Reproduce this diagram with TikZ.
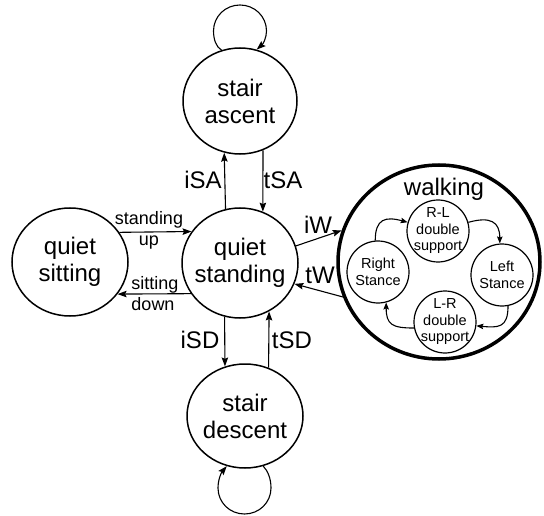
\documentclass[tikz,border=0pt]{standalone}
\usepackage{fontspec}
\setmainfont{Liberation Sans}
\usetikzlibrary{shapes.geometric,arrows.meta}
\begin{document}
\begin{tikzpicture}[x=1pt,y=-1pt,
  state/.style={draw, ellipse, line width=1.5pt, inner sep=-15pt, align=center, font=\fontsize{24}{27}\selectfont},
  sub/.style={draw, circle, line width=1.2pt, minimum size=62pt, inner sep=-6pt, align=center, font=\fontsize{14.5}{16.5}\selectfont},
  lbl/.style={font=\fontsize{24}{27}\selectfont, inner sep=0pt},
  slbl/.style={font=\fontsize{18}{20}\selectfont, inner sep=0pt},
  arr/.style={-{Stealth[length=9pt,width=6.5pt,inset=1.5pt]}, line width=1.1pt},
  sarr/.style={-{Stealth[length=7pt,width=5.5pt,inset=1.2pt]}, line width=1.1pt},
]
\fill[white] (0,0) rectangle (544,516);
\useasboundingbox (0,0) rectangle (544,516);

% main states
\node[state, minimum width=114pt, minimum height=106pt] (sa) at (240,101) {stair\\ascent};
\node[state, minimum width=116pt, minimum height=110pt] (qs) at (240,263) {quiet\\standing};
\node[state, minimum width=116pt, minimum height=108pt] (qsit) at (70,262) {quiet\\sitting};
\node[state, minimum width=116pt, minimum height=104pt] (sd) at (245,416) {stair\\descent};

% walking super-state
\node[draw, ellipse, line width=3.5pt, minimum width=202pt, minimum height=194pt, inner sep=0pt] (w) at (439,262) {};
\node[lbl] (wl) at (444,189) {walking};

\node[sub] (rl) at (438,231) {R-L\\double\\support};
\node[sub] (ls) at (502,275) {Left\\Stance};
\node[sub] (lr) at (445,322) {L-R\\double\\support};
\node[sub] (rs) at (378,272) {Right\\Stance};

% self loops (round)
\draw[arr] (sa.110) .. controls (216,47) and (213.5,39) .. (213.5,31)
  .. controls (213.5,16.4) and (225.4,5) .. (240,5)
  .. controls (254.6,5) and (266.5,16.4) .. (266.5,31)
  .. controls (266.5,38) and (263,44) .. (sa.72);
\draw[arr] (sd.-70) .. controls (268,471) and (271,479) .. (271,488)
  .. controls (271,502.6) and (259.1,514) .. (244.5,514)
  .. controls (229.9,514) and (218,502.6) .. (218,488)
  .. controls (218,480) and (221,473) .. (sd.-110);

% vertical transitions
\draw[arr] (qs.105.8) -- (sa.253.6);
\draw[arr] (sa.-65.8) -- (qs.66.6);
\draw[arr] (qs.254.2) -- (sd.112.3);
\draw[arr] (sd.64.3) -- (qs.-59.8);

% horizontal transitions
\draw[arr] (qsit.31.9) -- (qs.147.1);
\draw[arr] (qs.212.9) -- (qsit.-34.4);
\draw[arr] (qs.17) -- (w.162.8);
\draw[arr] (w.200) -- (qs.-21.3);

% inner cycle
\draw[sarr] (rs.95) .. controls +(0,-22) and +(-22,-6) .. (rl.164);
\draw[sarr] (rl.16) .. controls +(22,-6) and +(0,-22) .. (ls.94);
\draw[sarr] (ls.-79) .. controls +(0,22) and +(22,2) .. (lr.-7);
\draw[sarr] (lr.191) .. controls +(-22,0) and +(0,22) .. (rs.-75);

% labels
\node[lbl] (liSA) at (203,180) {iSA};
\node[lbl] (ltSA) at (283,180) {tSA};
\node[lbl] (liSD) at (200,340) {iSD};
\node[lbl] (ltSD) at (292,340) {tSD};
\node[lbl] (liW) at (318,225) {iW};
\node[lbl] (ltW) at (320,275) {tW};
\node[slbl] (l1) at (149,220) {standing};
\node[slbl] (l2) at (149,243) {up};
\node[slbl] (l3) at (155,285) {sitting};
\node[slbl] (l4) at (153,304) {down};
\end{tikzpicture}
\end{document}
